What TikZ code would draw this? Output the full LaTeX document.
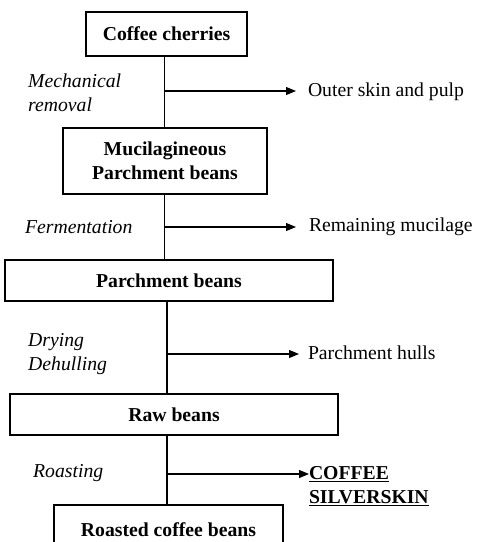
\documentclass[tikz,border=0pt]{standalone}
\usepackage{fontspec}
\setmainfont{Liberation Serif}
\usetikzlibrary{arrows.meta}
\begin{document}
\begin{tikzpicture}[x=1pt,y=-1pt,
  every node/.style={font=\fontsize{19.7}{23.5}\selectfont},
  box/.style={draw,line width=1.1pt,inner sep=0pt,align=center,font=\fontsize{19.7}{24.5}\selectfont\bfseries},
  lbl/.style={anchor=west,inner sep=0pt,align=left,font=\fontsize{19.7}{23.5}\selectfont\itshape},
  outtxt/.style={anchor=west,inner ysep=0pt,outer sep=0pt,align=left},
  conn/.style={line width=1.1pt},
  arr/.style={line width=1.1pt,-{Triangle[length=10pt,width=8pt]}}]
\clip (0,0) rectangle (477,542);
% boxes
\node[box,minimum width=161pt,minimum height=44pt] (A) at (166.5,34) {Coffee cherries};
\node[box,minimum width=204pt,minimum height=66pt] (B) at (165,161) {Mucilagineous\\Parchment beans};
\node[box,minimum width=328pt,minimum height=41pt] (C) at (169,280.5) {Parchment beans};
\node[box,minimum width=328pt,minimum height=41pt] (D) at (174,414.5) {Raw beans};
\node[box,minimum width=229pt,minimum height=50pt] (E) at (168.5,530) {Roasted coffee beans};
% trunks
\coordinate (t1) at (164.5,0);
\coordinate (t2) at (167,0);
\draw[conn] (A.south -| t1) -- (B.north -| t1);
\draw[conn] (B.south -| t1) -- (C.north -| t1);
\draw[conn] (C.south -| t2) -- (D.north -| t2);
\draw[conn] (D.south -| t2) -- (E.north -| t2);
% branch points
\coordinate (b1) at (164.5,91);
\coordinate (b2) at (164.5,227);
\coordinate (b3) at (167,354);
\coordinate (b4) at (167,474);
% outputs
\node[outtxt,inner xsep=12pt] (O1) at (296,92) {Outer skin and pulp};
\node[outtxt,inner xsep=13pt] (O2) at (296,227) {Remaining mucilage};
\node[outtxt,inner xsep=9pt] (O3) at (299,353) {Parchment hulls};
\node[outtxt,inner xsep=0pt,font=\fontsize{19.7}{23.5}\selectfont\bfseries] (O4) at (309,486) {\underline{COFFEE}\\\underline{SILVERSKIN}};
\coordinate (o4) at (309,474);
\draw[arr] (b1) -- (b1 -| O1.west);
\draw[arr] (b2) -- (b2 -| O2.west);
\draw[arr] (b3) -- (b3 -| O3.west);
\draw[arr] (b4) -- (o4);
% step labels
\node[lbl] (L1) at (28,93) {Mechanical\\removal};
\node[lbl] (L2) at (25,227) {Fermentation};
\node[lbl] (L3) at (28,354) {Drying\\Dehulling};
\node[lbl] (L4) at (33,473) {Roasting};
\end{tikzpicture}
\end{document}
